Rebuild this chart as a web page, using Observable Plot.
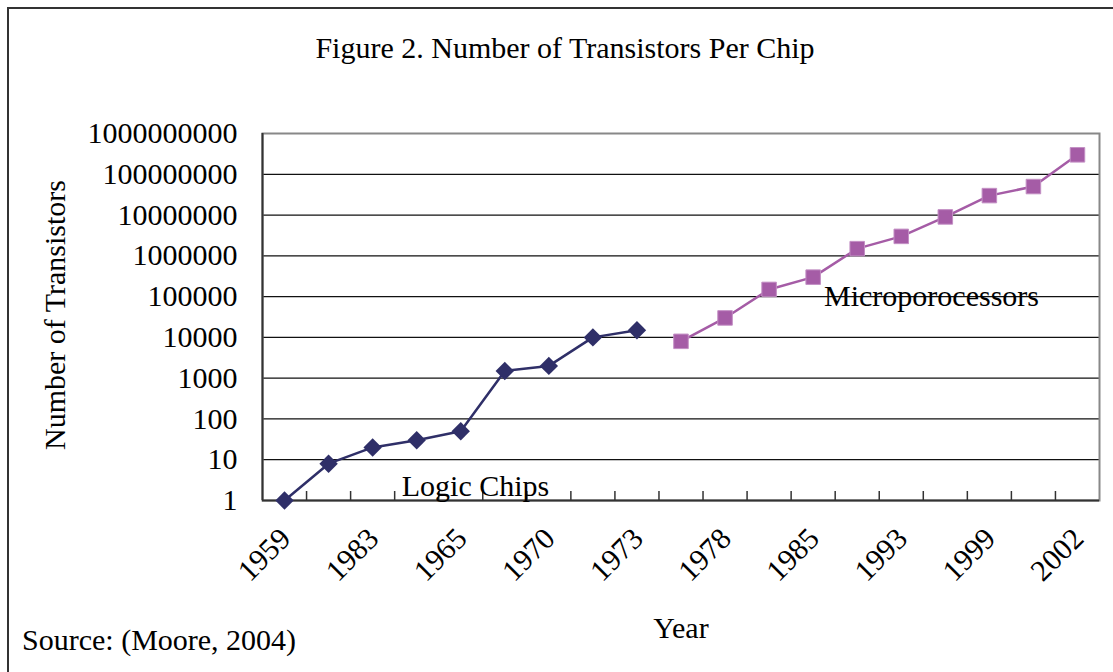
<!DOCTYPE html>
<html>
<head>
<meta charset="utf-8">
<script src="https://cdn.jsdelivr.net/npm/d3@7"></script>
<script src="https://cdn.jsdelivr.net/npm/@observablehq/plot@0.6"></script>
<style>
  html, body { margin: 0; padding: 0; background: #fff; overflow: hidden; }
  #wrap { position: relative; width: 1113px; height: 672px; overflow: hidden; font-family: "Liberation Serif", "Times New Roman", serif; }
  #border { position: absolute; left: 7px; top: 7px; width: 1200px; height: 800px; border-left: 2px solid #333; border-top: 2px solid #333; }
  #title { position: absolute; left: 0; top: 30px; width: 1130px; text-align: center; font-size: 30px; line-height: 36px; color: #000; }
  #source { position: absolute; left: 22px; top: 622px; font-size: 30px; line-height: 36px; color: #000; }
  #chart { position: absolute; left: 0; top: 0; }
</style>
</head>
<body>
<div id="wrap">
  <div id="border"></div>
  <div id="chart"></div>
  <div id="title">Figure 2. Number of Transistors Per Chip</div>
  <div id="source">Source: (Moore, 2004)</div>
</div>
<script>
// Tick labels shown on every other category (as in the original)
const yearLabels = ["1959", "1983", "1965", "1970", "1973", "1978", "1985", "1993", "1999", "2002"];
// Series values
const logicChips = [1, 8, 20, 30, 50, 1500, 2000, 10000, 15000];
const microprocessors = [8000, 30000, 150000, 300000, 1500000, 3000000, 9000000, 30000000, 50000000, 300000000];
// Y tick values
const yTicks = [1, 10, 100, 1000, 10000, 100000, 1000000, 10000000, 100000000, 1000000000];

const nCats = logicChips.length + microprocessors.length;
const xDomain = [-0.5, nCats - 0.5];
const bounds = d3.range(1, nCats).map(i => i - 0.5);
const labelIdx = yearLabels.map((d, i) => i * 2);

const navy = "#2f2f68";
const purple = "#a55ca6";

const chart = Plot.plot({
  width: 1113,
  height: 672,
  marginTop: 133,
  marginBottom: 172,
  marginLeft: 262,
  marginRight: 14,
  x: {type: "linear", domain: xDomain, axis: null},
  y: {type: "log", domain: [1, 1e9], axis: null},
  style: {fontFamily: "'Liberation Serif', 'Times New Roman', serif", fontSize: "30px", background: "transparent", color: "#000"},
  marks: [
    Plot.ruleY(yTicks.slice(1, -1), {stroke: "#111", strokeWidth: 1.2}),
    Plot.frame({stroke: "#888", strokeWidth: 2}),
    Plot.ruleX([xDomain[0]], {stroke: "#333", strokeWidth: 2}),
    Plot.ruleY([yTicks[0]], {stroke: "#333", strokeWidth: 2}),
    Plot.ruleX(bounds, {x: d => d, y1: yTicks[0], y2: yTicks[0], insetTop: -9, stroke: "#333", strokeWidth: 1.5}),
    Plot.axisY({ticks: yTicks, tickFormat: d3.format("d"), tickSize: 0, tickPadding: 25, fontSize: 30, label: null}),
    Plot.text(yearLabels, {x: (d, i) => labelIdx[i], text: d => d, frameAnchor: "bottom", dx: 1, dy: 33, rotate: -45, textAnchor: "end", lineAnchor: "middle", fontSize: 30}),
    Plot.line(logicChips, {x: (d, i) => i, y: d => d, stroke: navy, strokeWidth: 2.5}),
    Plot.dot(logicChips, {x: (d, i) => i, y: d => d, symbol: "diamond2", r: 8.3, fill: navy, stroke: null}),
    Plot.line(microprocessors, {x: (d, i) => i + logicChips.length, y: d => d, stroke: purple, strokeWidth: 2.5}),
    Plot.dot(microprocessors, {x: (d, i) => i + logicChips.length, y: d => d, symbol: "square", r: 8.2, fill: purple, stroke: "#c38fc4", strokeWidth: 1}),
    Plot.text(["Logic Chips"], {text: d => d, frameAnchor: "bottom-left", dx: 213, dy: -14, textAnchor: "middle", lineAnchor: "middle", fontSize: 30}),
    Plot.text(["Microporocessors"], {text: d => d, frameAnchor: "top-left", dx: 669, dy: 163, textAnchor: "middle", lineAnchor: "middle", fontSize: 30}),
    Plot.text(["Number of Transistors"], {text: d => d, frameAnchor: "left", dx: -207, dy: -2, rotate: -90, textAnchor: "middle", lineAnchor: "middle", fontSize: 30}),
    Plot.text(["Year"], {text: d => d, frameAnchor: "bottom", dy: 128, textAnchor: "middle", lineAnchor: "middle", fontSize: 30})
  ]
});
document.getElementById("chart").appendChild(chart);
</script>
</body>
</html>
